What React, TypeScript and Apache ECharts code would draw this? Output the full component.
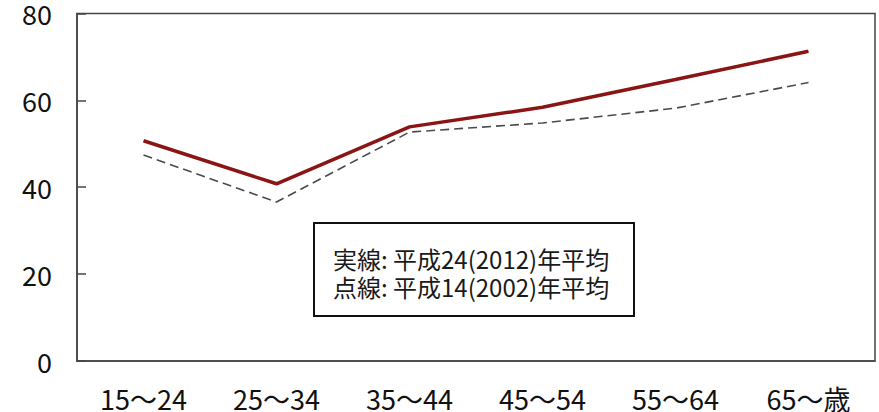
import React, { useEffect, useRef } from "react";
import * as echarts from "echarts";

const categories = ["15～24", "25～34", "35～44", "45～54", "55～64", "65～歳"];
const solid2012 = [50.7, 40.8, 53.9, 58.4, 64.8, 71.3];
const dashed2002 = [47.4, 36.6, 52.7, 54.8, 58.2, 64.1];
const legendLines = ["実線: 平成24(2012)年平均", "点線: 平成14(2002)年平均"];

const FONT = "'Noto Sans CJK JP', 'Noto Sans', sans-serif";

export default function App() {
  const ref = useRef<HTMLDivElement>(null);
  useEffect(() => {
    if (!ref.current) return;
    const chart = echarts.init(ref.current, undefined, { renderer: "svg" });
    chart.setOption({
      animation: false,
      backgroundColor: "#ffffff",
      grid: {
        left: 77,
        right: 4,
        top: 9,
        bottom: 51,
        show: true,
        borderColor: "#444",
        borderWidth: 1.5,
        backgroundColor: "transparent",
      },
      xAxis: {
        type: "category",
        data: categories,
        boundaryGap: true,
        axisLine: { lineStyle: { color: "#444", width: 1.5 } },
        axisTick: { inside: true, length: 9, lineStyle: { color: "#444", width: 1.5 } },
        axisLabel: {
          color: "#111",
          fontSize: 27,
          lineHeight: 20,
          fontFamily: FONT,
          margin: 27,
        },
        splitLine: { show: false },
      },
      yAxis: {
        type: "value",
        min: 0,
        max: 80,
        interval: 20,
        axisLine: { show: true, lineStyle: { color: "#444", width: 1.5 } },
        axisTick: { show: true, inside: true, length: 9, lineStyle: { color: "#444", width: 1.5 } },
        axisLabel: {
          color: "#111",
          fontSize: 27,
          lineHeight: 16,
          fontFamily: FONT,
          margin: 25,
        },
        splitLine: { show: false },
      },
      series: [
        {
          name: "平成14(2002)年平均",
          type: "line",
          data: dashed2002,
          symbol: "none",
          lineStyle: { color: "#4a4a4a", width: 1.6, type: [9, 5] },
        },
        {
          name: "平成24(2012)年平均",
          type: "line",
          data: solid2012,
          symbol: "none",
          lineStyle: { color: "#8b1515", width: 3.5 },
        },
      ],
      graphic: [
        {
          type: "rect",
          shape: { x: 314, y: 223, width: 320, height: 93 },
          style: { fill: "#fff", stroke: "#111", lineWidth: 2 },
        },
        {
          type: "text",
          x: 333,
          y: 272,
          style: {
            text: legendLines.join("\n"),
            fill: "#1a1a1a",
            font: `24px ${FONT}`,
            lineHeight: 28,
            textVerticalAlign: "middle",
          },
        },
      ],
    });
    return () => chart.dispose();
  }, []);
  return (
    <div
      ref={ref}
      style={{ position: "absolute", left: 0, top: 0, width: 879, height: 412 }}
    />
  );
}
